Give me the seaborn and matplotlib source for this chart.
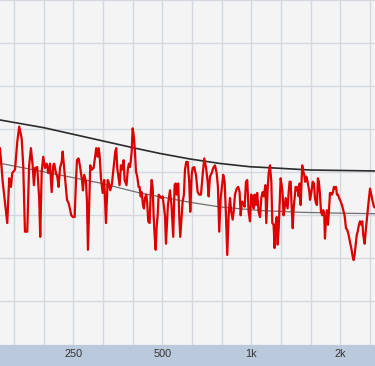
import numpy as np
import pandas as pd
import matplotlib
matplotlib.use("Agg")
import matplotlib.pyplot as plt
from matplotlib.ticker import FixedLocator, FixedFormatter, NullLocator
import seaborn as sns

# ---- data (frequency in Hz, level in dB) ----
red_freq = [
    141.3, 144.3, 149.5, 151.8, 153.9, 155.4, 158.8, 161.6, 164.1, 167.3,
    169.3, 171.6, 174.7, 177.3, 179.8, 182.2, 184.0, 185.9, 188.8, 191.7,
    193.3, 195.5, 197.9, 200.6, 203.3, 205.8, 208.5, 211.3, 213.9, 215.5,
    218.5, 220.7, 223.1, 225.4, 228.4, 230.2, 231.9, 238.1, 241.2, 246.2,
    249.4, 252.7, 255.3, 257.3, 260.6, 264.0, 267.5, 269.6, 272.2, 276.0,
    278.2, 280.3, 283.1, 285.4, 289.1, 292.9, 296.7, 299.0, 302.2, 304.6,
    306.9, 310.2, 314.3, 318.1, 322.5, 326.8, 329.2, 333.5, 337.9, 342.3,
    346.7, 349.4, 352.1, 355.9, 358.6, 362.5, 365.3, 370.1, 372.9, 378.4,
    382.8, 385.7, 388.8, 390.9, 394.0, 397.0, 400.9, 404.2, 407.4, 411.4,
    415.9, 419.0, 422.6, 425.9, 430.1, 433.4, 437.0, 441.4, 444.8, 448.2,
    453.0, 456.8, 460.3, 463.9, 467.4, 471.0, 475.0, 478.7, 482.4, 486.1,
    491.1, 496.1, 501.5, 506.4, 510.6, 514.6, 522.5, 530.9, 537.1, 544.5,
    550.4, 555.0, 559.3, 561.9, 566.2, 570.5, 575.2, 579.7, 586.0, 591.8,
    596.7, 602.7, 609.3, 616.7, 621.8, 628.7, 633.5, 641.2, 650.0, 658.6,
    666.6, 675.8, 684.8, 693.1, 702.7, 712.0, 717.5, 725.0, 734.6, 743.6,
    753.8, 763.8, 771.4, 779.1, 788.0, 795.9, 803.8, 812.5, 821.2, 829.4,
    838.3, 847.1, 855.7, 865.0, 871.6, 880.8, 892.5, 903.4, 913.1, 920.8,
    930.1, 939.3, 949.4, 959.5, 969.1, 979.6, 989.9, 1000, 1011, 1019,
    1026, 1037, 1047, 1059, 1070, 1081, 1093, 1103, 1116, 1124,
    1137, 1145, 1157, 1169, 1178, 1190, 1199, 1210, 1219, 1228,
    1238, 1247, 1257, 1267, 1276, 1286, 1296, 1307, 1317, 1327,
    1338, 1348, 1359, 1370, 1381, 1391, 1402, 1413, 1424, 1435,
    1446, 1457, 1469, 1480, 1487, 1499, 1510, 1522, 1534, 1546,
    1558, 1570, 1580, 1596, 1613, 1629, 1642, 1655, 1668, 1680,
    1693, 1708, 1721, 1739, 1752, 1765, 1775, 1789, 1803, 1817,
    1830, 1846, 1860, 1875, 1889, 1904, 1919, 1934, 1949, 1964,
    1983, 2006, 2026, 2046, 2068, 2091, 2112, 2135, 2157, 2179,
    2203, 2219, 2236, 2255, 2273, 2290, 2313, 2332, 2356, 2374,
    2392, 2418, 2443, 2467, 2494, 2521, 2546, 2574, 2600, 2641,
]
red_level = [
    82.8, 78.9, 74.1, 79.3, 78.3, 79.9, 80.3, 83.5, 85.3, 83.9,
    80.8, 73.1, 73.1, 80.8, 82.8, 80.8, 78.5, 80.5, 80.6, 77.0,
    72.5, 80.1, 81.8, 80.5, 81.0, 79.9, 81.0, 77.7, 80.8, 81.0,
    79.9, 79.5, 78.3, 80.5, 81.2, 82.4, 81.2, 76.8, 76.4, 75.0,
    74.8, 74.8, 78.9, 81.4, 81.6, 80.5, 79.1, 77.9, 79.7, 78.9,
    76.6, 71.0, 76.6, 80.8, 80.3, 80.5, 82.0, 82.8, 81.8, 82.8,
    82.0, 79.3, 77.6, 79.1, 74.1, 79.1, 78.9, 77.9, 78.7, 80.6,
    82.4, 82.8, 80.5, 79.3, 78.5, 80.8, 80.3, 81.4, 79.1, 78.5,
    80.5, 81.0, 80.6, 81.2, 82.4, 85.1, 84.1, 82.4, 80.1, 79.5,
    78.3, 78.3, 77.2, 77.7, 76.2, 75.8, 77.0, 77.4, 76.4, 74.3,
    74.1, 77.4, 79.1, 78.3, 75.0, 72.7, 71.0, 73.7, 75.0, 77.4,
    77.2, 77.0, 77.2, 76.0, 75.0, 71.7, 76.2, 77.9, 76.2, 72.5,
    78.5, 78.7, 77.4, 78.5, 78.7, 75.0, 72.5, 74.3, 76.6, 77.4,
    80.3, 81.2, 81.2, 78.9, 75.4, 79.7, 80.5, 80.6, 79.7, 77.7,
    77.4, 77.4, 79.7, 81.6, 80.6, 78.9, 77.2, 79.5, 79.9, 80.5,
    80.8, 79.9, 78.3, 73.1, 77.0, 78.3, 79.7, 78.9, 75.0, 70.4,
    75.0, 77.0, 75.4, 74.5, 75.4, 77.4, 78.1, 78.3, 77.7, 75.0,
    76.6, 76.4, 76.0, 78.9, 79.1, 75.4, 74.3, 77.4, 76.6, 75.8,
    77.4, 76.2, 77.6, 75.4, 74.8, 77.0, 77.7, 77.2, 78.5, 74.1,
    78.3, 79.9, 80.8, 78.9, 74.1, 73.9, 71.2, 74.1, 74.8, 71.6,
    73.5, 76.2, 79.3, 78.5, 77.6, 75.0, 75.8, 77.0, 76.4, 75.8,
    77.7, 78.9, 78.9, 75.8, 73.5, 75.8, 77.0, 78.3, 77.9, 78.3,
    77.2, 78.7, 76.2, 78.9, 80.8, 80.1, 79.7, 78.9, 79.5, 79.1,
    78.5, 77.9, 76.8, 77.6, 78.9, 78.7, 77.0, 76.4, 76.2, 79.3,
    78.9, 77.4, 75.4, 75.0, 75.6, 75.0, 72.3, 74.5, 75.6, 73.9,
    75.4, 77.6, 77.6, 77.4, 77.7, 78.3, 78.1, 78.3, 77.4, 77.4,
    77.0, 76.6, 76.2, 75.6, 75.0, 73.5, 73.3, 72.7, 71.9, 71.2,
    70.2, 69.8, 70.4, 71.6, 72.7, 73.1, 73.9, 74.3, 73.9, 74.3,
    72.7, 71.7, 73.5, 75.0, 76.6, 78.1, 77.4, 76.6, 76.0, 75.8,
]

upper_freq = [141.3, 199.0, 307.8, 397.9, 491.1, 620.4, 783.7, 989.9, 1250, 1580, 2621, 2750]
upper_level = [86.07, 85.17, 83.71, 82.85, 82.18, 81.54, 81.02, 80.64, 80.46, 80.26, 80.15, 80.14]

lower_freq = [141.3, 208.5, 307.8, 420.3, 620.4, 783.7, 1070, 1461, 1995, 2621, 2750]
lower_level = [81.04, 79.91, 78.75, 77.59, 76.51, 75.97, 75.56, 75.35, 75.25, 75.19, 75.18]

tick_freqs = [250, 500, 1000, 2000]
tick_labels = ["250", "500", "1k", "2k"]

# ---- style ----
sns.set_theme(style="whitegrid")
plt.rcParams['font.family'] = ['Liberation Sans', 'DejaVu Sans']

fig = plt.figure(figsize=(3.75, 3.66), dpi=100)
fig.patch.set_facecolor('#bbc9dc')
ax = fig.add_axes([0, 21.5 / 366, 1, 344.5 / 366])
ax.set_facecolor('#f4f4f4')

df_red = pd.DataFrame({"freq": red_freq, "level": red_level})
df_up = pd.DataFrame({"freq": upper_freq, "level": upper_level})
df_lo = pd.DataFrame({"freq": lower_freq, "level": lower_level})

sns.lineplot(data=df_lo, x="freq", y="level", ax=ax, color='#707070', lw=0.9,
             estimator=None, sort=False, zorder=3)
sns.lineplot(data=df_up, x="freq", y="level", ax=ax, color='#2b2b2b', lw=1.2,
             estimator=None, sort=False, zorder=3)
sns.lineplot(data=df_red, x="freq", y="level", ax=ax, color='#dd0000', lw=1.6,
             estimator=None, sort=False, zorder=4)

ax.set_xscale('log')
ax.set_xlim(141.3, 2621)
ax.set_ylim(60, 100)

# grid every 1/3 octave, labels at octaves
grid_pos = [250 * 2 ** (k / 3) for k in range(-2, 11)]
grid_lab = [tick_labels[tick_freqs.index(round(p))] if round(p) in tick_freqs else ""
            for p in grid_pos]
ax.xaxis.set_major_locator(FixedLocator(grid_pos))
ax.xaxis.set_major_formatter(FixedFormatter(grid_lab))
ax.xaxis.set_minor_locator(NullLocator())
ax.set_yticks(np.arange(60, 101, 5))
ax.yaxis.set_minor_locator(NullLocator())

ax.grid(True, which='major', color='#d4d8df', lw=1.0)
ax.tick_params(axis='x', length=0, pad=3.2, labelsize=7.8, labelcolor='#333333')
ax.tick_params(axis='y', length=0, labelleft=False)
ax.set_xlabel("")
ax.set_ylabel("")
for s in ax.spines.values():
    s.set_visible(False)
if ax.get_legend():
    ax.get_legend().remove()

fig.savefig("out.png", dpi=100, facecolor=fig.get_facecolor())
